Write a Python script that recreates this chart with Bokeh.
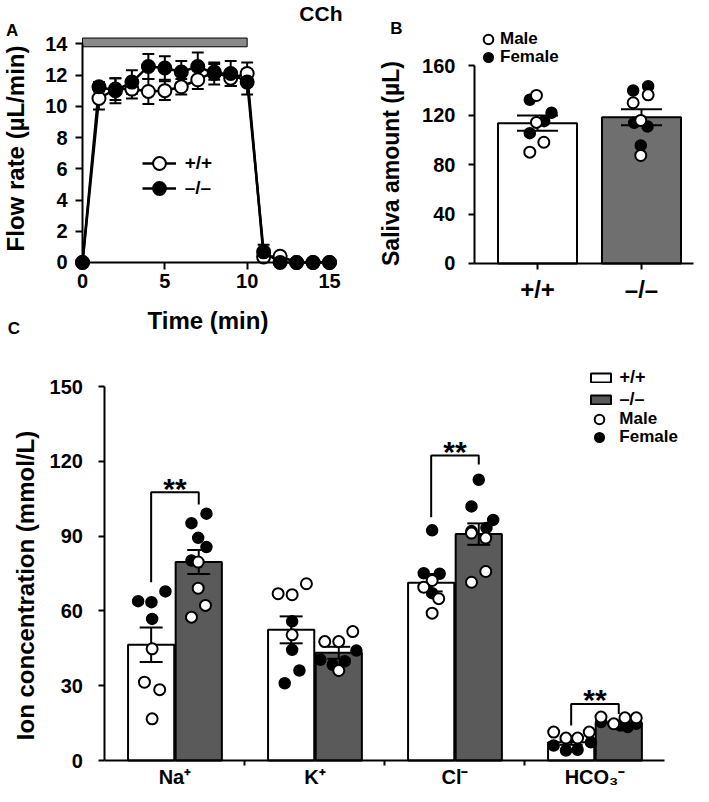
import math
from bokeh.plotting import figure
from bokeh.models import ColumnDataSource, FixedTicker, Range1d, Label, Legend, LegendItem
from bokeh.layouts import column, row
from bokeh.embed import file_html
from bokeh.resources import INLINE
from bokeh.core.properties import value

FONT = "Liberation Sans"

# ---------------- Panel A: flow rate during CCh stimulation ----------------
time_min = [0, 1, 2, 3, 4, 5, 6, 7, 8, 9, 10, 11, 12, 13, 14, 15]
flow_wt = [0.0, 10.5, 11.1, 11.1, 10.95, 11.0, 11.25, 11.7, 12.2, 11.8, 12.1, 0.35, 0.4, 0.0, 0.0, 0.0]
flow_wt_sem = [0.0, 0.7, 0.7, 0.6, 0.8, 0.6, 0.5, 0.6, 0.5, 0.5, 0.7, 0.3, 0.1, 0.0, 0.0, 0.0]
flow_ko = [0.0, 11.25, 11.0, 11.55, 12.55, 12.45, 12.2, 12.55, 12.1, 12.1, 11.55, 0.68, 0.0, 0.0, 0.0, 0.0]
flow_ko_sem = [0.0, 0.3, 0.8, 0.75, 0.8, 0.75, 0.7, 0.9, 0.7, 0.8, 0.8, 0.45, 0.0, 0.0, 0.0, 0.0]
cch_start = 0
cch_end = 10
time_ticks = [0, 5, 10, 15]
flow_ticks = [0, 2, 4, 6, 8, 10, 12, 14]

# ---------------- Panel B: saliva amount ----------------
genotypes = ["+/+", "–/–"]
saliva_mean = [113.4, 118.2]
saliva_sem = [6.2, 6.4]
saliva_wt = [135.8, 114.0, 98.0, 90.0, 132.3, 121.8, 115.0, 105.3]
saliva_wt_sex = ["M", "M", "M", "M", "F", "F", "F", "F"]
saliva_wt_jit = [-0.01, -0.01, 0.061, -0.074, -0.074, 0.135, 0.064, -0.074]
saliva_ko = [139.8, 143.3, 113.7, 110.7, 95.4, 129.9, 136.3, 115.6, 87.3]
saliva_ko_sex = ["F", "F", "F", "F", "F", "M", "M", "M", "M"]
saliva_ko_jit = [-0.08, 0.064, -0.07, 0.058, -0.007, -0.08, 0.064, -0.007, -0.007]
saliva_ticks = [0, 40, 80, 120, 160]

# ---------------- Panel C: ion concentrations ----------------
ions = ["Na⁺", "K⁺", "Cl⁻", "HCO₃⁻"]
ion_wt_mean = [46.4, 52.4, 71.3, 7.3]
ion_wt_sem = [6.9, 5.4, 3.5, 1.0]
ion_ko_mean = [79.6, 43.2, 90.8, 15.0]
ion_ko_sem = [4.8, 2.4, 4.3, 0.6]
ion_wt_pts = [
    [63.9, 63.5, 67.8, 56.8, 44.8, 31.4, 28.4, 16.7],
    [66.9, 66.5, 70.9, 55.8, 50.4, 44.4, 36.1, 31.0],
    [92.3, 75.1, 74.9, 72.2, 69.5, 67.1, 64.9, 59.1],
    [11.4, 9.0, 9.0, 11.4, 6.0, 4.0, 4.3, 7.3],
]
ion_wt_sex = [
    ["F", "F", "F", "F", "M", "M", "M", "M"],
    ["M", "M", "M", "F", "M", "F", "F", "F"],
    ["F", "F", "F", "M", "M", "F", "M", "M"],
    ["M", "M", "M", "M", "F", "F", "F", "F"],
]
ion_wt_jit = [
    [-0.093, 0.002, 0.102, 0.007, 0.007, -0.048, 0.061, 0.007],
    [-0.093, 0.007, 0.109, 0.007, 0.007, 0.007, 0.059, -0.046],
    [0.007, -0.053, 0.061, 0.007, -0.053, 0.007, 0.054, 0.007],
    [-0.125, -0.037, 0.046, 0.129, -0.125, -0.037, 0.046, 0.141],
]
ion_ko_pts = [
    [99.0, 95.2, 89.3, 85.6, 80.2, 79.6, 69.1, 62.2, 57.5],
    [47.7, 47.7, 51.7, 44.1, 40.4, 38.4, 39.8, 36.1],
    [112.6, 101.9, 96.5, 93.3, 92.0, 91.2, 89.2, 75.8, 71.5],
    [17.4, 14.7, 17.1, 17.1, 14.0, 13.4, 14.7, 15.4],
]
ion_ko_sex = [
    ["F", "F", "F", "F", "F", "M", "M", "M", "M"],
    ["M", "M", "M", "F", "F", "F", "F", "M"],
    ["F", "F", "F", "F", "F", "M", "M", "M", "M"],
    ["M", "M", "M", "M", "F", "F", "F", "F"],
]
ion_ko_jit = [
    [0.055, -0.052, -0.004, 0.055, -0.052, -0.004, -0.004, 0.048, -0.052],
    [-0.1, 0.0, 0.1, 0.126, -0.131, -0.043, 0.043, 0.0],
    [0.0, -0.052, 0.103, 0.055, -0.052, -0.052, 0.05, 0.05, -0.052],
    [-0.127, -0.036, 0.044, 0.125, 0.011, 0.064, 0.125, -0.127],
]
sig_groups = [0, 2, 3]
sig_top = [107.6, 122.3, 22.7]
sig_left_end = [71.5, 97.6, 14.0]
sig_right_end = [102.7, 118.7, 18.7]
ion_ticks = [0, 30, 60, 90, 120, 150]

# ---------------- styles ----------------
KO_GRAY_B = "#6f6f6f"
KO_GRAY_C = "#5a5a5a"


def style_axis(ax, size="20px", tick_out=6, standoff=8):
    ax.axis_line_width = 2
    ax.axis_line_color = "black"
    ax.major_tick_line_width = 2
    ax.major_tick_line_color = "black"
    ax.major_tick_in = 0
    ax.major_tick_out = tick_out
    ax.minor_tick_line_color = None
    ax.major_label_text_font = FONT
    ax.major_label_text_font_style = "bold"
    ax.major_label_text_font_size = size
    ax.major_label_text_color = "black"
    ax.major_label_standoff = standoff


def base_fig(**kw):
    p = figure(output_backend="svg", toolbar_location=None,
               min_border_left=0, min_border_right=0, min_border_top=0, min_border_bottom=0, **kw)
    p.outline_line_color = None
    p.xgrid.visible = False
    p.ygrid.visible = False
    p.background_fill_color = "white"
    p.border_fill_color = "white"
    return p


def error_bars(p, xs, ys, es, cap_half, lw=2):
    x = [a for a, e in zip(xs, es) if e > 0]
    lo = [b - e for b, e in zip(ys, es) if e > 0]
    hi = [b + e for b, e in zip(ys, es) if e > 0]
    p.segment(x0=x, y0=lo, x1=x, y1=hi, line_color="black", line_width=lw)
    xl = [a - cap_half for a in x]
    xr = [a + cap_half for a in x]
    p.segment(x0=xl, y0=hi, x1=xr, y1=hi, line_color="black", line_width=lw)
    p.segment(x0=xl, y0=lo, x1=xr, y1=lo, line_color="black", line_width=lw)


def add_label(p, x, y, text, size, angle=0.0):
    p.add_layout(Label(x=x, y=y, text=text, angle=angle, text_align="center",
                       text_baseline="middle", text_font=FONT, text_font_style="bold",
                       text_font_size=size, text_color="black"))


def add_legend(p, label, renderers, vx, vy, gw, gh, standoff, size="17px", lh=20):
    leg = Legend(items=[LegendItem(label=label, renderers=renderers)],
                 location=(vx, vy), glyph_width=gw, glyph_height=gh, label_height=lh,
                 label_standoff=standoff, padding=0, margin=0, spacing=0,
                 border_line_color=None, background_fill_alpha=0,
                 label_text_font=FONT, label_text_font_style="bold",
                 label_text_font_size=size, label_text_color="black")
    p.add_layout(leg)


# ======================= Panel A =======================
A_W, A_H = 355, 342
pA = base_fig(width=A_W, height=A_H,
              x_range=Range1d(-4.980, 16.579), y_range=Range1d(-5.122, 16.773))

pA.quad(left=[cch_start], right=[cch_end], bottom=[13.81], top=[14.37],
        fill_color="#8a8a8a", line_color="black", line_width=1)
lnA_wt = pA.line(time_min, flow_wt, line_color="black", line_width=2.5)
lnA_ko = pA.line(time_min, flow_ko, line_color="black", line_width=2.5)
error_bars(pA, time_min, flow_wt, flow_wt_sem, 0.36)
error_bars(pA, time_min, flow_ko, flow_ko_sem, 0.36)
scA_wt = pA.scatter(time_min, flow_wt, marker="circle", size=13, fill_color="white",
                    line_color="black", line_width=2)
scA_ko = pA.scatter(time_min, flow_ko, marker="circle", size=13, fill_color="black",
                    line_color="black", line_width=2)

pA.xaxis.fixed_location = 0
pA.yaxis.fixed_location = 0
pA.xaxis.bounds = (0, 15)
pA.yaxis.bounds = (0, 14)
pA.xaxis.ticker = FixedTicker(ticks=time_ticks)
pA.yaxis.ticker = FixedTicker(ticks=flow_ticks)
style_axis(pA.xaxis, "20px", 7, 5)
style_axis(pA.yaxis, "20px", 7, 8)

add_legend(pA, "+/+", [lnA_wt, scA_wt], 141.7, 162.7, 34, 32, 9, "19px")
add_legend(pA, "–/–", [lnA_ko, scA_ko], 141.7, 137.7, 34, 32, 9, "19px")

add_label(pA, -4.07, 7.30, "Flow rate (µL/min)", "24px", angle=math.pi / 2)
add_label(pA, 7.62, -3.71, "Time (min)", "24px")
add_label(pA, 14.48, 15.97, "CCh", "21px")
add_label(pA, -4.27, 14.85, "A", "17px")
add_label(pA, -4.16, -4.23, "C", "17px")

# ======================= Panel B =======================
B_W, B_H = 354, 342
pB = base_fig(width=B_W, height=B_H,
              x_range=Range1d(-0.75, 2.654), y_range=Range1d(-63.84, 212.53))

gx = [1, 2]
pB.vbar(x=gx, top=saliva_mean, width=0.76, fill_color=["white", KO_GRAY_B],
        line_color="black", line_width=2)
error_bars(pB, gx, saliva_mean, saliva_sem, 0.197)

b_x, b_y, b_s = [], [], []
for g, vals, sexes, jit in ((1, saliva_wt, saliva_wt_sex, saliva_wt_jit),
                            (2, saliva_ko, saliva_ko_sex, saliva_ko_jit)):
    for v, s, j in zip(vals, sexes, jit):
        b_x.append(g + j)
        b_y.append(v)
        b_s.append(s)
srcB_m = ColumnDataSource(dict(x=[x for x, s in zip(b_x, b_s) if s == "M"],
                               y=[y for y, s in zip(b_y, b_s) if s == "M"]))
srcB_f = ColumnDataSource(dict(x=[x for x, s in zip(b_x, b_s) if s == "F"],
                               y=[y for y, s in zip(b_y, b_s) if s == "F"]))
scB_f = pB.scatter("x", "y", source=srcB_f, marker="circle", size=11, fill_color="black",
                   line_color="black", line_width=1.5)
scB_m = pB.scatter("x", "y", source=srcB_m, marker="circle", size=11, fill_color="white",
                   line_color="black", line_width=2)

pB.xaxis.fixed_location = 0
pB.yaxis.fixed_location = 0.394
pB.yaxis.bounds = (0, 160)
pB.xaxis.bounds = (0.394, 2.5)
pB.yaxis.ticker = FixedTicker(ticks=saliva_ticks)
pB.xaxis.ticker = FixedTicker(ticks=gx)
pB.xaxis.major_label_overrides = {1: genotypes[0], 2: genotypes[1]}
style_axis(pB.xaxis, "24px", 6, 7)
style_axis(pB.yaxis, "20px", 6, 13)

add_legend(pB, "Male", [scB_m], 121, 291.5, 24, 24, 0)
add_legend(pB, "Female", [scB_f], 121, 273.5, 24, 24, 0)
add_label(pB, -0.413, 80.8, "Saliva amount (µL)", "23px", angle=math.pi / 2)
add_label(pB, -0.356, 189.9, "B", "17px")

# ======================= Panel C =======================
C_W, C_H = 709, 460
pC = base_fig(width=C_W, height=C_H,
              x_range=Range1d(-1.246, 3.818), y_range=Range1d(-16.845, 167.65))

OFF = 0.17
BW = 0.33
gpos = list(range(len(ions)))
x_wt = [g - OFF for g in gpos]
x_ko = [g + OFF for g in gpos]
vb_wt = pC.vbar(x=x_wt, top=ion_wt_mean, width=BW, fill_color="white",
                line_color="black", line_width=2)
vb_ko = pC.vbar(x=x_ko, top=ion_ko_mean, width=BW, fill_color=KO_GRAY_C,
                line_color="black", line_width=2)
error_bars(pC, x_wt, ion_wt_mean, ion_wt_sem, 0.082)
error_bars(pC, x_ko, ion_ko_mean, ion_ko_sem, 0.082)

c_m = dict(x=[], y=[])
c_f = dict(x=[], y=[])
for centers, pts, sexes, jits in ((x_wt, ion_wt_pts, ion_wt_sex, ion_wt_jit),
                                  (x_ko, ion_ko_pts, ion_ko_sex, ion_ko_jit)):
    for c, vals, ss, js in zip(centers, pts, sexes, jits):
        for v, s, j in zip(vals, ss, js):
            d = c_m if s == "M" else c_f
            d["x"].append(c + j)
            d["y"].append(v)
scC_f = pC.scatter("x", "y", source=ColumnDataSource(c_f), marker="circle", size=11,
                   fill_color="black", line_color="black", line_width=1.5)
scC_m = pC.scatter("x", "y", source=ColumnDataSource(c_m), marker="circle", size=11,
                   fill_color="white", line_color="black", line_width=2)

# significance brackets
br_xs = [[g - OFF, g - OFF, g + OFF, g + OFF] for g in sig_groups]
br_ys = [[le, t, t, re] for le, t, re in zip(sig_left_end, sig_top, sig_right_end)]
pC.multi_line(xs=br_xs, ys=br_ys, line_color="black", line_width=2)
pC.text(x=sig_groups, y=sig_top, text=["**"] * len(sig_groups), text_align="center",
        text_baseline="alphabetic", y_offset=-4, text_font=value(FONT),
        text_font_style="bold", text_font_size="30px", text_color="black")

pC.xaxis.fixed_location = 0
pC.yaxis.fixed_location = -0.5
pC.yaxis.bounds = (0, 150)
pC.xaxis.bounds = (-0.5, 3.5)
pC.yaxis.ticker = FixedTicker(ticks=ion_ticks)
pC.xaxis.ticker = FixedTicker(ticks=gpos, minor_ticks=[g + 0.5 for g in gpos[:-1]])
pC.xaxis.major_label_overrides = {g: name for g, name in zip(gpos, ions)}
style_axis(pC.xaxis, "20px", 0, 0)
style_axis(pC.yaxis, "20px", 6, 16)
pC.xaxis.minor_tick_line_color = "black"
pC.xaxis.minor_tick_line_width = 2
pC.xaxis.minor_tick_in = 0
pC.xaxis.minor_tick_out = 5

add_label(pC, -1.068, 70.19, "Ion concentration (mmol/L)", "24px", angle=math.pi / 2)
add_legend(pC, "+/+", [vb_wt], 587.5, 414.5, 25, 11, 7, "18px", lh=11)
add_legend(pC, "–/–", [vb_ko], 587.5, 392.5, 25, 11, 7, "18px", lh=11)
add_legend(pC, "Male", [scC_m], 587.3, 371, 24, 24, 8)
add_legend(pC, "Female", [scC_f], 587.3, 353, 24, 24, 8)

layout = column(row(pA, pB), pC)
open("out.html", "w").write(file_html(layout, INLINE))
